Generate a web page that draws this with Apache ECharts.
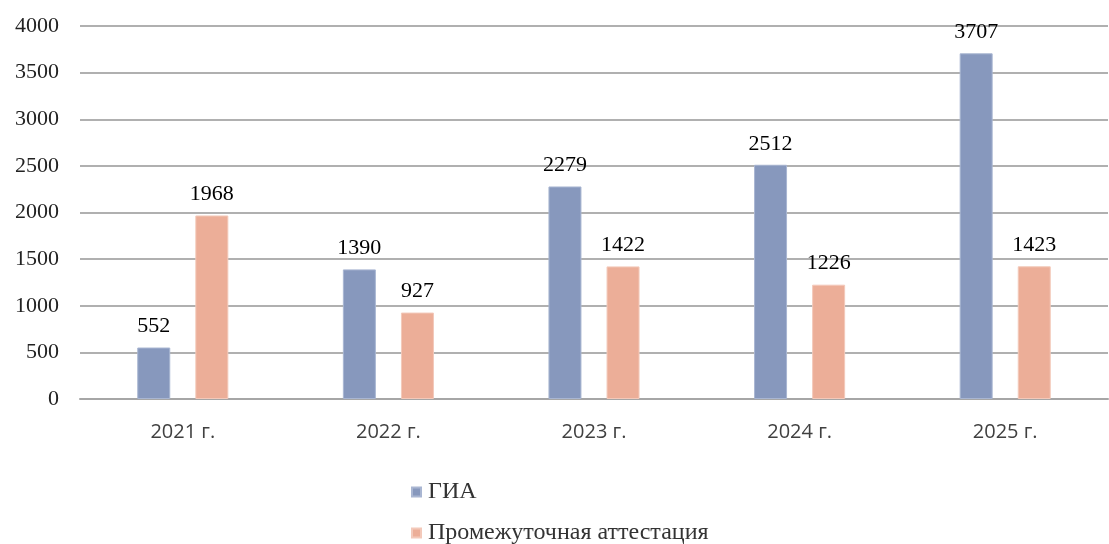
<!DOCTYPE html>
<html>
<head>
<meta charset="utf-8">
<script src="https://cdn.jsdelivr.net/npm/echarts@6/dist/echarts.min.js"></script>
<style>
  html, body { margin: 0; padding: 0; background: #fff; }
  #chart { width: 1109px; height: 544px; }
</style>
</head>
<body>
<div id="chart"></div>
<script>
const categories = ['2021 г.', '2022 г.', '2023 г.', '2024 г.', '2025 г.'];
const giaValues = [552, 1390, 2279, 2512, 3707];
const interimValues = [1968, 927, 1422, 1226, 1423];
const seriesNames = ['ГИА', 'Промежуточная аттестация'];

const serif = '"Liberation Serif", "DejaVu Serif", serif';
const sans = '"Open Sans", "Liberation Sans", sans-serif';

const chart = echarts.init(document.getElementById('chart'));

function barSeries(name, data, color, border) {
    return {
        name: name,
        type: 'bar',
        data: data,
        barWidth: 33,
        barGap: '76%',
        itemStyle: { color: color, borderColor: border, borderWidth: 1 },
        label: {
            show: true,
            position: 'top',
            distance: 10,
            color: '#000',
            fontFamily: serif,
            fontSize: 22
        }
    };
}

// one legend per row so the two entries stack like the original
function legendRow(name, top) {
    return {
        left: 411,
        top: top,
        padding: 0,
        itemWidth: 9,
        itemHeight: 9,
        icon: 'rect',
        textStyle: { fontFamily: serif, fontSize: 24, color: '#333', padding: [0, 0, 0, 2] },
        data: [name]
    };
}

chart.setOption({
    animation: false,
    grid: { left: 80, right: 1, top: 26, bottom: 145 },
    legend: [
        legendRow(seriesNames[0], 480),
        legendRow(seriesNames[1], 521)
    ],
    xAxis: {
        type: 'category',
        data: categories,
        axisLine: { lineStyle: { color: '#a6a6a6', width: 2 } },
        axisTick: { show: false },
        axisLabel: { margin: 23, fontFamily: sans, fontSize: 20, color: '#404040' }
    },
    yAxis: {
        type: 'value',
        min: 0,
        max: 4000,
        interval: 500,
        axisLine: { show: false },
        axisTick: { show: false },
        splitLine: { lineStyle: { color: '#b0b0b0', width: 2 } },
        axisLabel: {
            margin: 21,
            fontFamily: serif,
            fontSize: 22,
            color: '#222',
            formatter: (v) => String(v)
        }
    },
    series: [
        barSeries(seriesNames[0], giaValues, '#8798bd', '#a9b6d2'),
        barSeries(seriesNames[1], interimValues, '#ecae98', '#f3c9ba')
    ]
});
</script>
</body>
</html>
